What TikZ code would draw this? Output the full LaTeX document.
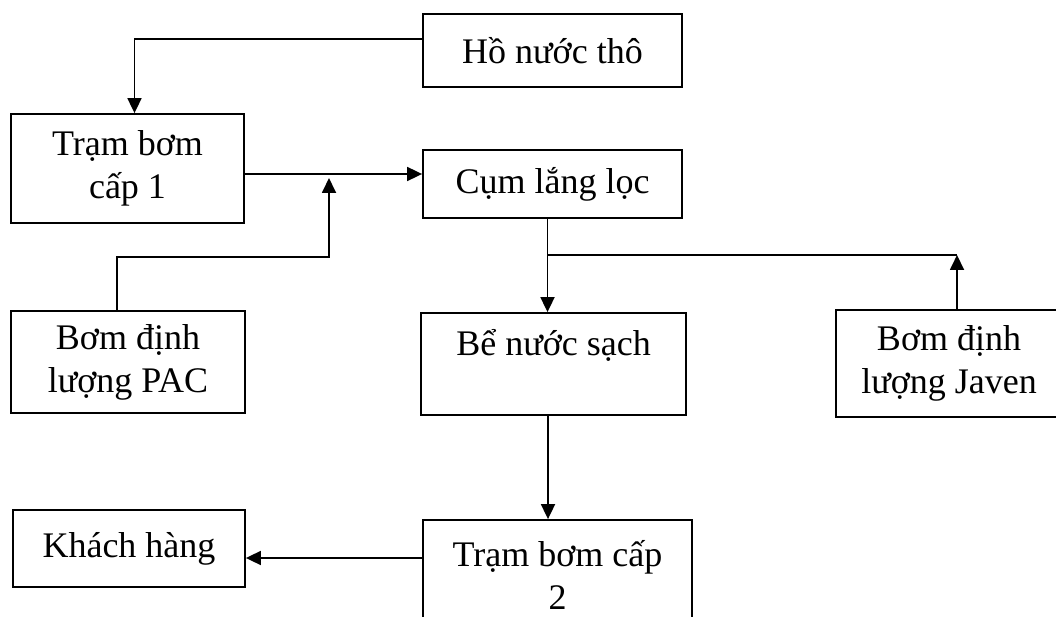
\documentclass[tikz,border=0pt]{standalone}
\usepackage{fontspec}
\setmainfont{Liberation Serif}
\usetikzlibrary{arrows.meta}

\tikzset{
    box/.style={draw, line width=1.8pt, align=center, inner sep=0pt,
        font=\fontsize{36}{43}\selectfont},
    arr/.style={line width=1.8pt, -{Triangle[length=15pt,width=14pt]}},
    wire/.style={line width=1.8pt}
}

\begin{document}
\begin{tikzpicture}[x=1pt, y=-1pt]
    % Page
    \useasboundingbox (0,0) rectangle (1056,617);

    % Boxes
    \node[box, minimum width=259pt, minimum height=73pt] (ho) at (552.5,50.5) {Hồ nước thô};
    \node[box, minimum width=233pt, minimum height=109pt] (tram1) at (127.5,168.5) {Trạm bơm\\cấp 1};
    \node[box, minimum width=259pt, minimum height=68pt] (cum) at (552.5,184) {Cụm lắng lọc};
    \node[box, minimum width=234pt, minimum height=102pt] (pac) at (128,362) {Bơm định\\lượng PAC};
    \node[box, minimum width=265pt, minimum height=102pt] (be) at (553.5,364) {Bể nước sạch\\\mbox{}};
    \node[box, minimum width=226pt, minimum height=107pt] (jav) at (949,363.5) {Bơm định\\lượng Javen};
    \node[box, minimum width=269pt, minimum height=110pt] (tram2) at (557.5,575) {Trạm bơm cấp\\2};
    \node[box, minimum width=232pt, minimum height=77pt] (khach) at (129,548.5) {Khách hàng};

    % Bends and joins
    \coordinate (pacIn) at (329,178);
    \coordinate (pacBend) at (329,257);
    \coordinate (javIn) at (957,255);

    % Connectors
    \draw[arr] ([yshift=11.5pt]ho.west) -| ([xshift=7pt]tram1.north);
    \draw[arr] ([yshift=-5.5pt]tram1.east) -- ([yshift=-5.5pt]tram1.east -| cum.west);
    \draw[arr] ([xshift=-11pt]pac.north) |- (pacBend) -- (pacIn);
    \draw[arr] ([xshift=-5pt]cum.south) -- ([xshift=-5pt]cum.south |- be.north);
    \draw[wire] ([xshift=-5pt]cum.south |- javIn) -- (javIn);
    \draw[arr] (javIn |- jav.north) -- (javIn);
    \draw[arr] ([xshift=-5.5pt]be.south) -- ([xshift=-5.5pt]be.south |- tram2.north);
    \draw[arr] ([yshift=17pt]tram2.west) -- ([yshift=17pt]tram2.west -| khach.east);
\end{tikzpicture}
\end{document}
